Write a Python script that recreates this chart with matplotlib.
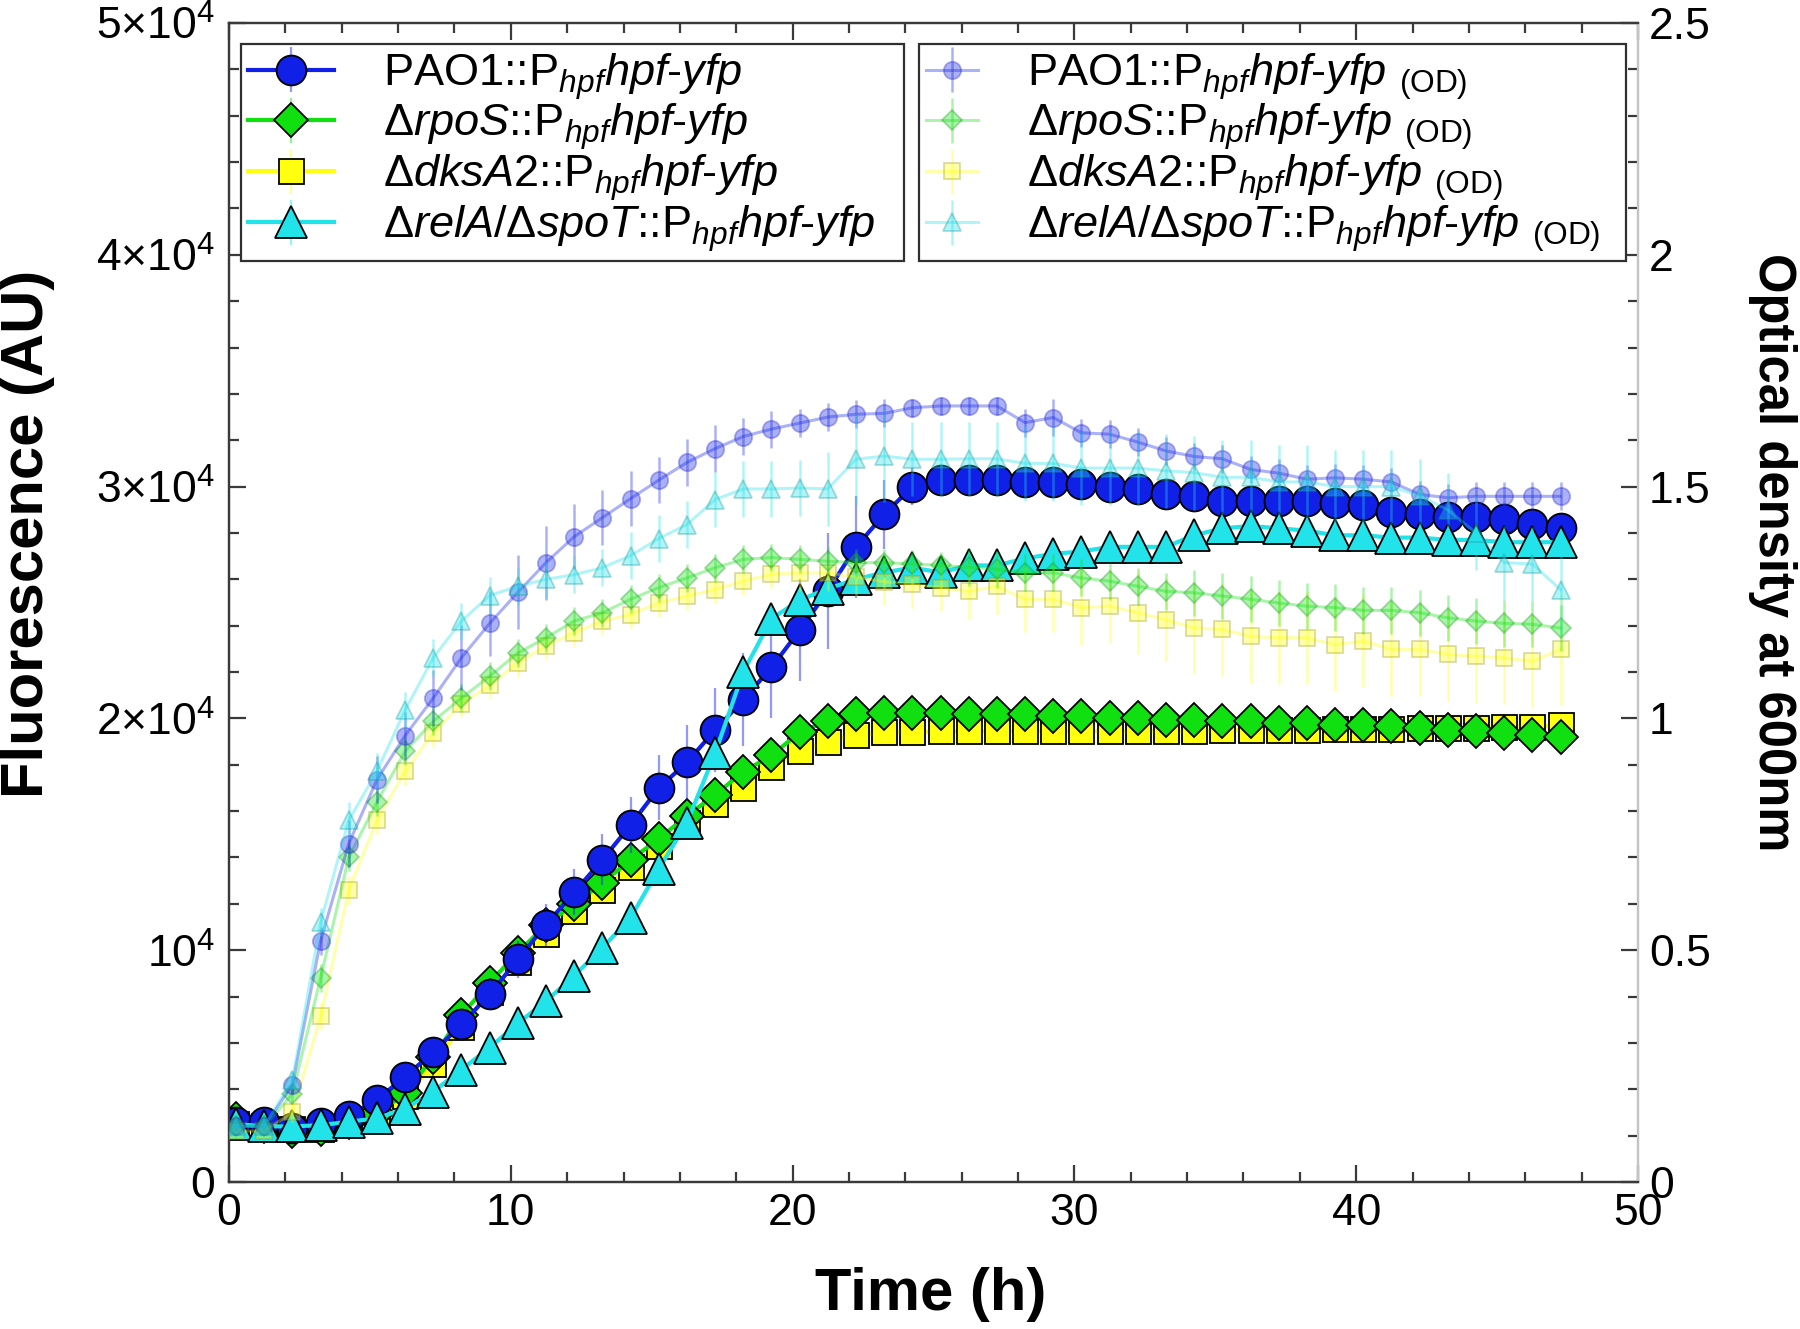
import matplotlib
matplotlib.use('Agg')
import matplotlib.pyplot as plt
from matplotlib.ticker import FixedLocator, MultipleLocator, FixedFormatter

plt.rcParams['font.family'] = ['Liberation Sans', 'DejaVu Sans']
plt.rcParams['mathtext.fontset'] = 'custom'
plt.rcParams['mathtext.rm'] = 'Liberation Sans'
plt.rcParams['mathtext.it'] = 'Liberation Sans:italic'
plt.rcParams['mathtext.bf'] = 'Liberation Sans:bold'

# ---------------- data ----------------
time_h = [0.25, 1.25, 2.25, 3.25, 4.25, 5.25, 6.25, 7.25, 8.25, 9.25,
          10.25, 11.25, 12.25, 13.25, 14.25, 15.25, 16.25, 17.25, 18.25, 19.25,
          20.25, 21.25, 22.25, 23.25, 24.25, 25.25, 26.25, 27.25, 28.25, 29.25,
          30.25, 31.25, 32.25, 33.25, 34.25, 35.25, 36.25, 37.25, 38.25, 39.25,
          40.25, 41.25, 42.25, 43.25, 44.25, 45.25, 46.25, 47.25]

# Fluorescence (AU)
fl_pao1 = [2600, 2600, 2350, 2550, 2850, 3550, 4550, 5600, 6800, 8100,
           9600, 11100, 12500, 13900, 15400, 17000, 18100, 19500, 20800, 22200,
           23800, 25500, 27400, 28800, 30000, 30300, 30300, 30300, 30200, 30200,
           30100, 30000, 29900, 29700, 29600, 29400, 29400, 29400, 29400, 29300,
           29200, 28900, 28800, 28700, 28700, 28600, 28400, 28200]
fl_rpos = [2700, 2400, 2200, 2300, 2600, 2960, 3820, 5400, 7200, 8600,
           9900, 11100, 12000, 12900, 13900, 14800, 15800, 16700, 17700, 18400,
           19400, 19900, 20200, 20250, 20250, 20250, 20200, 20200, 20200, 20100,
           20100, 20000, 20000, 19950, 19950, 19900, 19900, 19800, 19800, 19730,
           19730, 19660, 19600, 19520, 19440, 19370, 19300, 19200]
fl_dksa2 = [2500, 2400, 2300, 2300, 2500, 2900, 3700, 5100, 6700, 8200,
            9500, 10700, 11700, 12600, 13600, 14500, 15500, 16300, 17000, 17900,
            18600, 19000, 19300, 19400, 19400, 19450, 19450, 19450, 19450, 19450,
            19450, 19450, 19450, 19450, 19450, 19500, 19500, 19500, 19500, 19550,
            19550, 19550, 19600, 19600, 19600, 19650, 19650, 19700]
fl_rela = [2500, 2400, 2400, 2450, 2600, 2750, 3170, 3900, 4850, 5800,
           6850, 7800, 8900, 10100, 11400, 13500, 15500, 18500, 22000, 24300,
           25100, 25600, 26000, 26300, 26500, 26300, 26600, 26600, 26900, 27100,
           27200, 27400, 27400, 27400, 27900, 28200, 28300, 28200, 28100, 27900,
           27900, 27800, 27800, 27700, 27700, 27600, 27600, 27600]

fl_pao1_err = [200, 200, 200, 200, 300, 300, 400, 500, 600, 700,
               800, 900, 1000, 1100, 1200, 1400, 1600, 1800, 2000, 2200,
               2200, 2500, 2200, 1500, 800, 600, 500, 500, 500, 500,
               500, 500, 500, 500, 500, 500, 500, 500, 500, 500,
               500, 500, 500, 500, 500, 500, 500, 500]
fl_small_err = [150, 150, 150, 150, 200, 200, 250, 300, 300, 350,
                400, 400, 450, 450, 500, 500, 550, 600, 600, 600,
                600, 600, 500, 500, 400, 400, 400, 400, 400, 400,
                400, 400, 400, 400, 400, 400, 400, 400, 400, 400,
                400, 400, 400, 400, 400, 400, 400, 400]

# Optical density at 600 nm
od_pao1 = [0.12, 0.12, 0.21, 0.52, 0.73, 0.868, 0.963, 1.044, 1.131, 1.205,
           1.272, 1.336, 1.392, 1.433, 1.474, 1.514, 1.552, 1.582, 1.608, 1.624,
           1.637, 1.650, 1.656, 1.658, 1.670, 1.674, 1.674, 1.674, 1.638, 1.649,
           1.616, 1.613, 1.596, 1.577, 1.565, 1.560, 1.537, 1.529, 1.516, 1.519,
           1.516, 1.510, 1.483, 1.476, 1.479, 1.479, 1.479, 1.479]
od_rpos = [0.12, 0.12, 0.19, 0.44, 0.70, 0.82, 0.929, 0.994, 1.044, 1.091,
           1.141, 1.174, 1.210, 1.228, 1.257, 1.282, 1.303, 1.325, 1.343, 1.347,
           1.343, 1.339, 1.336, 1.336, 1.333, 1.330, 1.326, 1.322, 1.314, 1.314,
           1.303, 1.296, 1.285, 1.274, 1.271, 1.264, 1.257, 1.249, 1.242, 1.239,
           1.233, 1.233, 1.228, 1.217, 1.210, 1.205, 1.203, 1.195]
od_dksa2 = [0.11, 0.11, 0.15, 0.357, 0.63, 0.78, 0.886, 0.969, 1.032, 1.071,
            1.120, 1.156, 1.185, 1.210, 1.224, 1.249, 1.264, 1.278, 1.296, 1.311,
            1.314, 1.314, 1.305, 1.295, 1.289, 1.282, 1.274, 1.285, 1.257, 1.257,
            1.239, 1.242, 1.228, 1.213, 1.195, 1.192, 1.177, 1.174, 1.174, 1.159,
            1.167, 1.149, 1.149, 1.138, 1.134, 1.131, 1.123, 1.149]
od_rela = [0.12, 0.12, 0.22, 0.56, 0.78, 0.886, 1.018, 1.131, 1.210, 1.265,
           1.285, 1.300, 1.310, 1.325, 1.351, 1.388, 1.418, 1.472, 1.495, 1.495,
           1.497, 1.495, 1.559, 1.566, 1.559, 1.559, 1.560, 1.560, 1.550, 1.550,
           1.540, 1.540, 1.540, 1.534, 1.530, 1.520, 1.520, 1.510, 1.510, 1.500,
           1.500, 1.500, 1.480, 1.450, 1.400, 1.336, 1.333, 1.278]

od_pao1_err = [0.01, 0.01, 0.02, 0.03, 0.05, 0.05, 0.05, 0.06, 0.07, 0.07,
               0.08, 0.08, 0.07, 0.06, 0.06, 0.05, 0.05, 0.05, 0.04, 0.04,
               0.03, 0.03, 0.03, 0.03, 0.02, 0.02, 0.02, 0.02, 0.03, 0.04,
               0.03, 0.03, 0.03, 0.03, 0.03, 0.03, 0.03, 0.03, 0.03, 0.03,
               0.03, 0.03, 0.03, 0.03, 0.03, 0.03, 0.03, 0.03]
od_rpos_err = [0.01, 0.01, 0.02, 0.03, 0.03, 0.03, 0.03, 0.03, 0.03, 0.03,
               0.03, 0.03, 0.03, 0.03, 0.03, 0.03, 0.03, 0.03, 0.03, 0.03,
               0.03, 0.03, 0.03, 0.03, 0.03, 0.03, 0.04, 0.04, 0.04, 0.04,
               0.04, 0.04, 0.04, 0.04, 0.05, 0.05, 0.05, 0.05, 0.05, 0.05,
               0.05, 0.05, 0.05, 0.05, 0.05, 0.05, 0.05, 0.05]
od_dksa2_err = [0.01, 0.01, 0.02, 0.03, 0.03, 0.03, 0.03, 0.03, 0.03, 0.03,
                0.03, 0.03, 0.03, 0.03, 0.03, 0.03, 0.03, 0.03, 0.03, 0.03,
                0.04, 0.04, 0.04, 0.05, 0.05, 0.05, 0.06, 0.06, 0.07, 0.07,
                0.08, 0.08, 0.09, 0.09, 0.10, 0.10, 0.10, 0.10, 0.10, 0.10,
                0.10, 0.10, 0.10, 0.10, 0.10, 0.10, 0.10, 0.12]
od_rela_err = [0.01, 0.01, 0.02, 0.03, 0.04, 0.04, 0.04, 0.04, 0.04, 0.04,
               0.04, 0.04, 0.04, 0.04, 0.05, 0.05, 0.05, 0.06, 0.06, 0.06,
               0.06, 0.08, 0.10, 0.10, 0.08, 0.08, 0.08, 0.08, 0.08, 0.08,
               0.08, 0.08, 0.08, 0.08, 0.08, 0.08, 0.08, 0.08, 0.08, 0.08,
               0.08, 0.08, 0.08, 0.08, 0.08, 0.08, 0.08, 0.10]

fl_labels = [r'PAO1::P$_{\mathit{hpf}}$$\mathit{hpf}$-$\mathit{yfp}$',
             r'Δ$\mathit{rpoS}$::P$_{\mathit{hpf}}$$\mathit{hpf}$-$\mathit{yfp}$',
             r'Δ$\mathit{dksA2}$::P$_{\mathit{hpf}}$$\mathit{hpf}$-$\mathit{yfp}$',
             r'Δ$\mathit{relA}$/Δ$\mathit{spoT}$::P$_{\mathit{hpf}}$$\mathit{hpf}$-$\mathit{yfp}$']
od_labels = [s + r' $_{\mathrm{(OD)}}$' for s in fl_labels]

x_ticks = [0, 10, 20, 30, 40, 50]
yl_ticks = [0, 10000, 20000, 30000, 40000, 50000]
yl_ticklabels = ['0', r'$10^{4}$', r'$2{\times}10^{4}$', r'$3{\times}10^{4}$',
                 r'$4{\times}10^{4}$', r'$5{\times}10^{4}$']
yr_ticks = [0, 0.5, 1.0, 1.5, 2.0, 2.5]
yr_ticklabels = ['0', '0.5', '1', '1.5', '2', '2.5']

# ---------------- styles ----------------
colors = ['#1020e6', '#10e010', '#ffff10', '#22e2ea']
markers = ['o', 'D', 's', '^']
msizes = [21.5, 17.5, 18, 22.5]
od_msizes = [12.5, 10.5, 11, 12.5]
od_edges = ['#2a2acc', '#1a9a1a', '#9a9a20', '#1a9a9a']
zorders = [5, 4, 3, 6]

fig = plt.figure(figsize=(18, 13.29), dpi=100)
ax = fig.add_axes([229/1800, 1-1182/1329, 1409/1800, 1159/1329])
ax2 = ax.twinx()

fl_data = [fl_pao1, fl_rpos, fl_dksa2, fl_rela]
fl_errs = [fl_pao1_err, fl_small_err, fl_small_err, fl_small_err]
od_data = [od_pao1, od_rpos, od_dksa2, od_rela]
od_errs = [od_pao1_err, od_rpos_err, od_dksa2_err, od_rela_err]

fl_handles = []
for i in range(4):
    h = ax.errorbar(time_h, fl_data[i], yerr=fl_errs[i], color=colors[i],
                    lw=3, marker=markers[i], ms=msizes[i], mfc=colors[i],
                    mec='black', mew=1.3, elinewidth=1.6, ecolor=colors[i],
                    capsize=0, zorder=zorders[i])
    h[2][0].set_alpha(0.45)
    fl_handles.append(h)

od_handles = []
for i in range(4):
    h = ax2.errorbar(time_h, od_data[i], yerr=od_errs[i], color=colors[i],
                     lw=2.2, alpha=0.35, marker=markers[i], ms=od_msizes[i],
                     mfc=colors[i], mec=od_edges[i], mew=1.3,
                     elinewidth=1.8, capsize=0, zorder=zorders[i])
    od_handles.append(h)

# ---------------- axes ----------------
ax.set_xlim(0, 50)
ax.set_ylim(0, 50000)
ax2.set_ylim(0, 2.5)

ax.xaxis.set_major_locator(FixedLocator(x_ticks))
ax.xaxis.set_minor_locator(MultipleLocator(2))
ax.yaxis.set_major_locator(FixedLocator(yl_ticks))
ax.yaxis.set_major_formatter(FixedFormatter(yl_ticklabels))
ax.yaxis.set_minor_locator(MultipleLocator(2000))
ax2.yaxis.set_major_locator(FixedLocator(yr_ticks))
ax2.yaxis.set_major_formatter(FixedFormatter(yr_ticklabels))
ax2.yaxis.set_minor_locator(MultipleLocator(0.1))

spine_c = '#3a3a3a'
for a in (ax, ax2):
    for s in ('left', 'bottom', 'top'):
        a.spines[s].set_color(spine_c)
        a.spines[s].set_linewidth(1.6)
    a.spines['right'].set_color('#c4c4c4')
    a.spines['right'].set_linewidth(1.6)

ax.tick_params(axis='x', which='both', direction='in', top=True,
               colors=spine_c, labelcolor='black', labelsize=32, pad=8)
ax.tick_params(axis='y', which='both', direction='in', right=False,
               colors=spine_c, labelcolor='black', labelsize=32, pad=10)
ax2.tick_params(axis='y', which='both', direction='in', right=True,
                colors=spine_c, labelcolor='black', labelsize=32, pad=8)
for a in (ax, ax2):
    a.tick_params(which='major', length=12, width=1.6)
    a.tick_params(which='minor', length=7, width=1.6)

fig.text(931/1800, 1-1294/1329, 'Time (h)', fontsize=43, fontweight='bold',
         ha='center', va='center')
fig.text(28/1800, 1-534/1329, 'Fluorescence (AU)', fontsize=43,
         fontweight='bold', rotation=90, ha='center', va='center')
fig.text(1773/1800, 1-552/1329, 'Optical density at 600nm', fontsize=36.5,
         fontweight='bold', rotation=-90, ha='center', va='center')

leg_kw = dict(loc='upper left', mode='expand', borderaxespad=0, fontsize=32.5,
              frameon=True, fancybox=False, framealpha=1, edgecolor='#303030',
              labelspacing=0.0, borderpad=0.15)
leg1 = ax.legend(fl_handles, fl_labels,
                 bbox_to_anchor=(0.0085, 0.81, 0.4705, 0.172),
                 handlelength=1.9, handletextpad=1.1, **leg_kw)
leg1.get_frame().set_linewidth(1.6)
leg2 = ax2.legend(od_handles, od_labels,
                  bbox_to_anchor=(0.4897, 0.81, 0.5018, 0.172),
                  handlelength=1.15, handletextpad=1.1, **leg_kw)
leg2.get_frame().set_linewidth(1.6)

fig.savefig('out.png', dpi=100)
